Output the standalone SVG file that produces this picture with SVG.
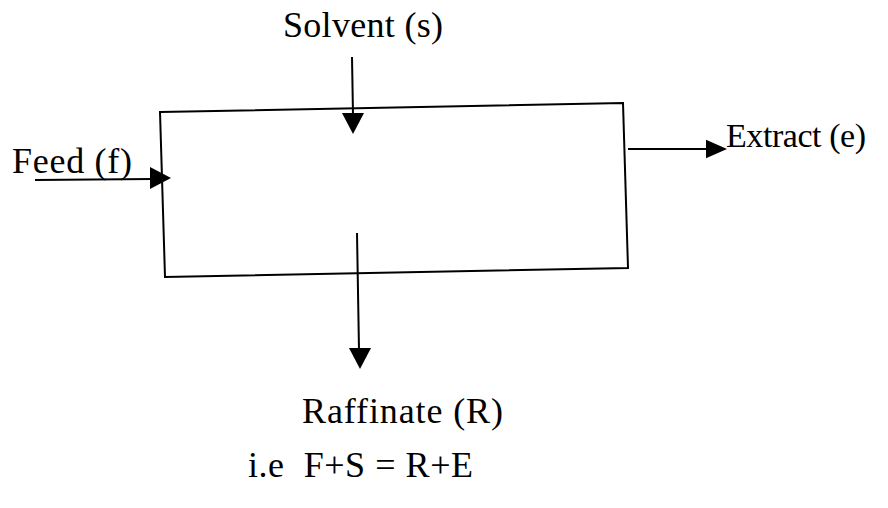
<svg xmlns="http://www.w3.org/2000/svg" width="888" height="508" viewBox="0 0 888 508">
<style>
.l{stroke:#000;stroke-width:2;fill:none}
.t{font-family:'Liberation Serif','Times New Roman',serif;font-size:36px;fill:#000}
</style>
<defs>
<polygon id="head" points="-11,-21 11,-21 0,0" fill="#000"/>
</defs>
<rect width="888" height="508" fill="#fff"/>
<g id="extractor">
<path class="l" d="M160,112 L623,103 L628,268 L165,277 Z"/>
</g>
<g id="connectors">
<line class="l" x1="35" y1="180" x2="152" y2="179"/>
<line class="l" x1="352" y1="57" x2="353" y2="115"/>
<line class="l" x1="357" y1="233" x2="359" y2="350"/>
<line class="l" x1="628" y1="149" x2="707" y2="149"/>
<use href="#head" transform="translate(171,178) rotate(-90)"/>
<use href="#head" transform="translate(353,134)"/>
<use href="#head" transform="translate(360,369)"/>
<use href="#head" transform="translate(727,149) rotate(-90) scale(0.85,1)"/>
</g>
<g id="labels">
<text class="t" x="283" y="37" textLength="160">Solvent (s)</text>
<text class="t" x="12" y="173" textLength="120">Feed (f)</text>
<text class="t" x="726" y="147" style="font-size:34px" textLength="140">Extract (e)</text>
<text class="t" x="302" y="423" textLength="201">Raffinate (R)</text>
<text class="t" x="248" y="477" textLength="225" xml:space="preserve">i.e  F+S = R+E</text>
</g>
</svg>
